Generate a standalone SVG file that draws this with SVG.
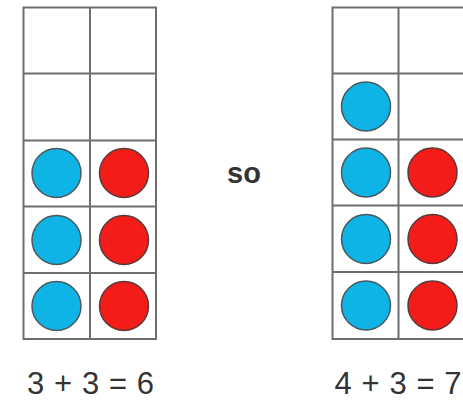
<svg xmlns="http://www.w3.org/2000/svg" width="463" height="403" viewBox="0 0 463 403">
<style>
.grid{fill:none;stroke:#6e6e6e;stroke-width:2}
.b{fill:#0fb4e6;stroke:#4a5a60;stroke-width:1.5}
.r{fill:#f41c18;stroke:#5a3a38;stroke-width:1.5}
.t{font-family:"Liberation Sans",Arial,sans-serif;font-size:31px;fill:#333;text-anchor:middle}
.so{font-family:"Liberation Sans",Arial,sans-serif;font-size:29px;font-weight:bold;fill:#333;text-anchor:middle}
</style>
<rect width="463" height="403" fill="#fff"/>
<g id="left-frame">
<path class="grid" d="M23.5 7.5H156V339H23.5Z M90 7.5V339 M23.5 73.5H156 M23.5 140.5H156 M23.5 206.5H156 M23.5 273H156"/>
<circle class="b" cx="56.5" cy="173" r="24.5"/>
<circle class="b" cx="56.5" cy="240" r="24.5"/>
<circle class="b" cx="56.5" cy="306" r="24.5"/>
<circle class="r" cx="124" cy="173" r="24.5"/>
<circle class="r" cx="124" cy="240" r="24.5"/>
<circle class="r" cx="124" cy="306" r="24.5"/>
</g>
<g id="right-frame">
<path class="grid" d="M332.5 7.5H466V339H332.5Z M398.5 7.5V339 M332.5 73.5H466 M332.5 139.5H466 M332.5 205.5H466 M332.5 272H466"/>
<circle class="b" cx="366" cy="106.5" r="24.5"/>
<circle class="b" cx="366" cy="172.5" r="24.5"/>
<circle class="b" cx="366" cy="239" r="24.5"/>
<circle class="b" cx="366" cy="305.5" r="24.5"/>
<circle class="r" cx="432.5" cy="172.5" r="24.5"/>
<circle class="r" cx="432.5" cy="239" r="24.5"/>
<circle class="r" cx="432.5" cy="305.5" r="24.5"/>
</g>
<g id="labels">
<text class="so" x="244" y="183">so</text>
<text class="t" x="90.5" y="393.5" textLength="127" lengthAdjust="spacing">3 + 3 = 6</text>
<text class="t" x="398" y="393.5" textLength="127" lengthAdjust="spacing">4 + 3 = 7</text>
</g>
</svg>
